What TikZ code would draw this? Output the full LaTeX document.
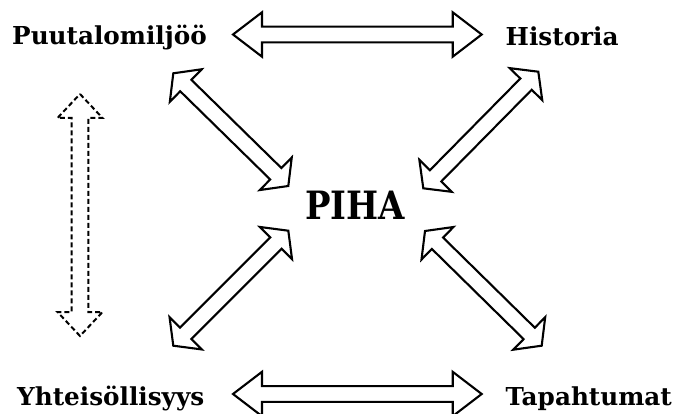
\documentclass[tikz,border=0pt]{standalone}
\usepackage{fontspec}
\setmainfont{DejaVu Serif}
\usetikzlibrary{calc}
\tikzset{
  lbl/.style={font=\bfseries\fontsize{24.7}{30}\selectfont, inner sep=0pt, anchor=base west},
  centre/.style={font=\bfseries\fontsize{39}{46}\selectfont, inner sep=0pt, anchor=base west},
  fat/.style={draw=black, line width=2.1pt, fill=white, line join=miter},
  fatdash/.style={fat, line width=2pt, dash pattern=on 5pt off 3pt},
}
% #1 style, #2 from, #3 to, #4 head length, #5 head half width, #6 shaft half width
\newcommand\fatarrow[6]{%
  \draw[#1] (#2)
    -- ($(#2)!#4!(#3)!#5!90:(#3)$)
    -- ($(#2)!#4!(#3)!#6!90:(#3)$)
    -- ($(#3)!#4!(#2)!#6!-90:(#2)$)
    -- ($(#3)!#4!(#2)!#5!-90:(#2)$)
    -- (#3)
    -- ($(#3)!#4!(#2)!#5!90:(#2)$)
    -- ($(#3)!#4!(#2)!#6!90:(#2)$)
    -- ($(#2)!#4!(#3)!#6!-90:(#3)$)
    -- ($(#2)!#4!(#3)!#5!-90:(#3)$)
    -- cycle;}
\begin{document}
\begin{tikzpicture}[x=1pt,y=-1pt]
  \useasboundingbox (0,0) rectangle (680,414);
  % labels
  \node[lbl] (puu) at (12,45) {Puutalomiljöö};
  \node[lbl] (his) at (505.5,46) {Historia};
  \node[lbl] (yht) at (17,405.7) {Yhteisöllisyys};
  \node[lbl] (tap) at (505.5,405.7) {Tapahtumat};
  \node[centre] (piha) at (305,220) {\scalebox{0.87}[1]{PIHA}};
  % arrow end points
  \coordinate (topA) at (233,34.5);
  \coordinate (topB) at (481.7,34.5);
  \coordinate (botA) at (233,394);
  \coordinate (botB) at (481.7,394);
  \coordinate (tlA) at (173.3,73.3);
  \coordinate (tlB) at (288.3,186);
  \coordinate (trA) at (538.3,71.7);
  \coordinate (trB) at (423.3,188.3);
  \coordinate (blA) at (288.3,230.7);
  \coordinate (blB) at (173.3,345.7);
  \coordinate (brA) at (425,231);
  \coordinate (brB) at (541.7,345.7);
  \coordinate (vA) at (80,94);
  \coordinate (vB) at (80,336);
  % arrows
  \fatarrow{fat}{topA}{topB}{29pt}{22.2pt}{7.9pt}
  \fatarrow{fat}{botA}{botB}{29pt}{22.2pt}{7.9pt}
  \fatarrow{fat}{tlA}{tlB}{17.5pt}{22.8pt}{8pt}
  \fatarrow{fat}{trA}{trB}{17.5pt}{22.8pt}{8pt}
  \fatarrow{fat}{blA}{blB}{17.5pt}{22.8pt}{8pt}
  \fatarrow{fat}{brA}{brB}{17.5pt}{22.8pt}{8pt}
  \fatarrow{fatdash}{vA}{vB}{24pt}{22.5pt}{8.3pt}
\end{tikzpicture}
\end{document}
